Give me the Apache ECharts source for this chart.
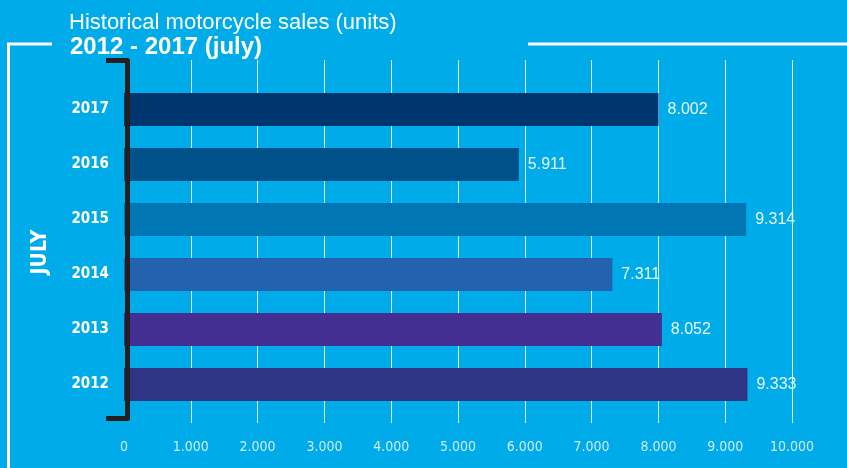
<!DOCTYPE html>
<html>
<head>
<meta charset="utf-8">
<script src="https://cdn.jsdelivr.net/npm/echarts@6/dist/echarts.min.js"></script>
<style>
html,body{margin:0;padding:0;background:#00abe9;}
#c{width:847px;height:468px;}
</style>
</head>
<body>
<div id="c"></div>
<script>
var years = ['2012', '2013', '2014', '2015', '2016', '2017'];
var sales = [9333, 8052, 7311, 9314, 5911, 8002];
var barColors = ['#2e3585', '#432f91', '#2262ae', '#0076b5', '#00508a', '#003670'];
var xTicks = [0, 1000, 2000, 3000, 4000, 5000, 6000, 7000, 8000, 9000, 10000];

function fmt(v) {
  return String(v).replace(/\B(?=(\d{3})+(?!\d))/g, '.');
}

var COND = '"DejaVu Sans Condensed", "Liberation Sans", sans-serif';

var chart = echarts.init(document.getElementById('c'));
chart.setOption({
  backgroundColor: '#00abe9',
  animation: false,
  title: [
    {
      text: 'Historical motorcycle sales (units)',
      left: 64, top: 7,
      textStyle: { color: '#ffffff', fontFamily: 'Liberation Sans', fontWeight: 'normal', fontSize: 22 }
    },
    {
      text: '2012 - 2017 (july)',
      left: 65, top: 30,
      textStyle: { color: '#ffffff', fontFamily: 'Liberation Sans', fontWeight: 'bold', fontSize: 24 }
    }
  ],
  grid: [
    { left: 124, right: 55, top: 82, bottom: 56, containLabel: false },
    { left: 124, right: 55, top: 60, bottom: 45, containLabel: false }
  ],
  xAxis: [
    { gridIndex: 0, type: 'value', min: 0, max: 10000, interval: 1000, show: false },
    {
      gridIndex: 1, type: 'value', min: 0, max: 10000, interval: 1000,
      axisLine: { show: false }, axisTick: { show: false },
      splitLine: { show: true, showMinLine: false, lineStyle: { color: 'rgba(255,255,255,0.85)', width: 1 } },
      axisLabel: {
        margin: 17, color: '#cdeaf8', fontFamily: COND, fontSize: 14,
        formatter: function (v) { return fmt(v); }
      }
    }
  ],
  yAxis: [
    {
      gridIndex: 0, type: 'category', data: years,
      axisLine: { show: false }, axisTick: { show: false },
      axisLabel: { margin: 15, color: '#ffffff', fontFamily: COND, fontWeight: 'bold', fontSize: 15 }
    },
    { gridIndex: 1, type: 'category', data: years, show: false }
  ],
  series: [
    {
      type: 'bar', xAxisIndex: 0, yAxisIndex: 0,
      barWidth: '60%',
      z: 3,
      data: sales.map(function (v, i) { return { value: v, itemStyle: { color: barColors[i] } }; }),
      label: {
        show: true, position: 'right', distance: 9,
        color: '#e6f6fd', fontFamily: 'Liberation Sans', fontSize: 16,
        formatter: function (p) { return fmt(p.value); }
      }
    }
  ],
  graphic: [
    { type: 'polyline', z: 100, shape: { points: [[7, 44], [52, 44]] }, style: { stroke: '#ffffff', lineWidth: 3, fill: null } },
    { type: 'polyline', z: 100, shape: { points: [[8.5, 43], [8.5, 468]] }, style: { stroke: '#ffffff', lineWidth: 3, fill: null } },
    { type: 'polyline', z: 100, shape: { points: [[528, 44], [847, 44]] }, style: { stroke: '#ffffff', lineWidth: 3, fill: null } },
    { type: 'polyline', z: 100, shape: { points: [[106, 60.5], [127.5, 60.5], [127.5, 418.5], [106, 418.5]] },
      style: { stroke: '#231f20', lineWidth: 5, fill: null, lineJoin: 'round' } },
    { type: 'text', z: 100, x: 41, y: 252, rotation: Math.PI / 2,
      style: { text: 'JULY', fill: '#ffffff', font: 'bold 21px "DejaVu Sans Condensed", "Liberation Sans", sans-serif', align: 'center', verticalAlign: 'middle' } }
  ]
});
</script>
</body>
</html>
